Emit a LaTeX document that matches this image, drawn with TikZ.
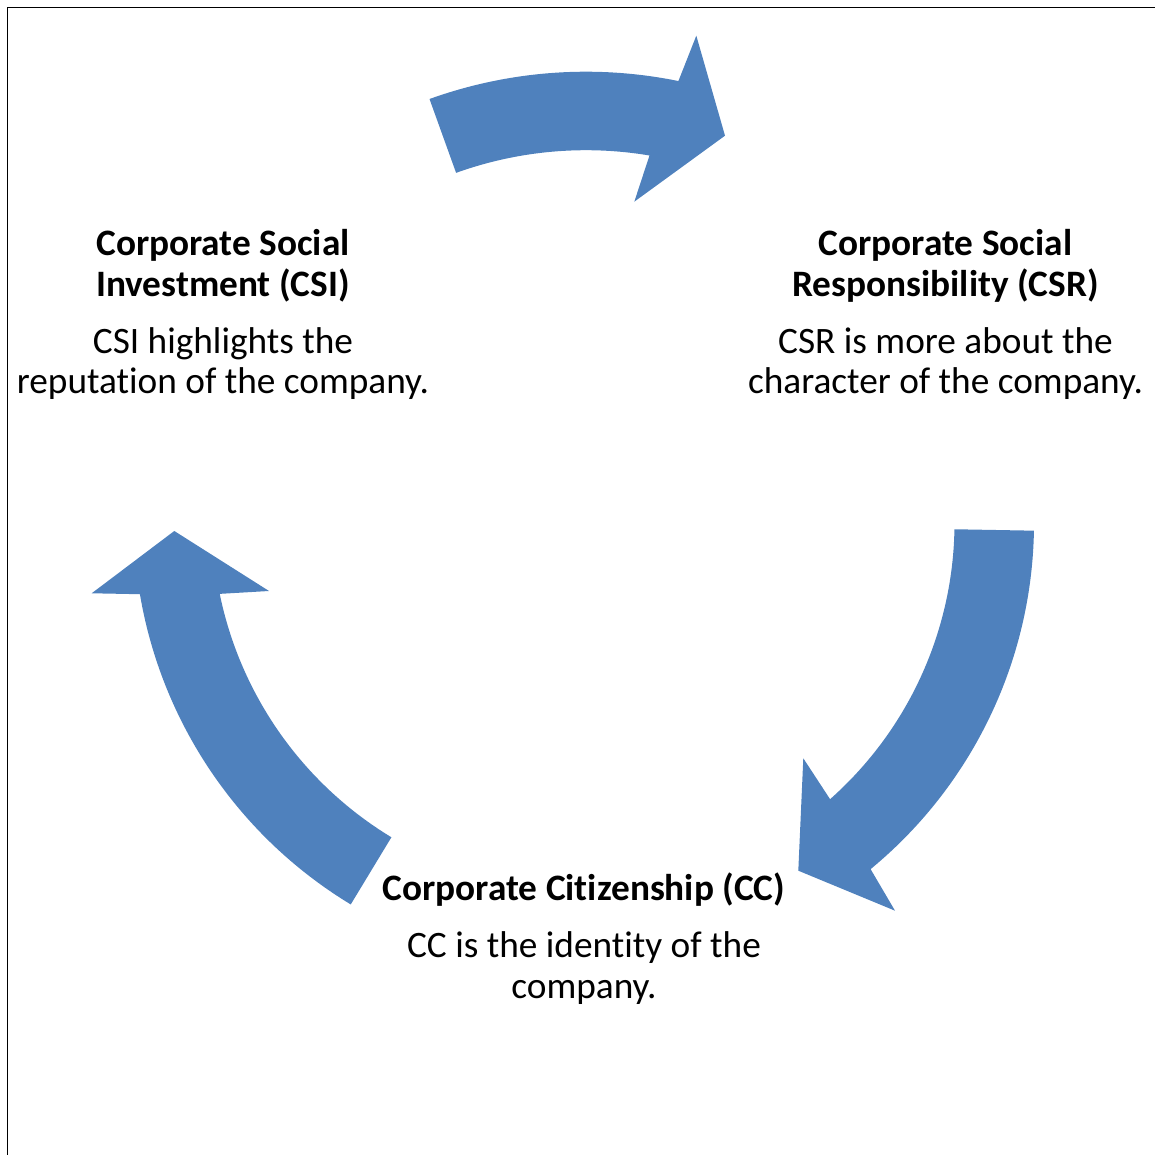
\documentclass[tikz,border=0pt]{standalone}
\usepackage{fontspec}
\setmainfont{Carlito}[Ligatures=NoCommon]
\begin{document}
\begin{tikzpicture}[x=1pt,y=1pt,
  cyclearrow/.style={fill=arrowblue, draw=none},
  titleline/.style={anchor=base, inner sep=0pt, font=\fontsize{37.3}{41}\selectfont\bfseries},
  bodyline/.style={anchor=base, inner sep=0pt, font=\fontsize{37.3}{41}\selectfont},
  frameline/.style={line width=1.5pt, draw=black}]
\definecolor{arrowblue}{RGB}{79,129,189}
\useasboundingbox (0,0) rectangle (1155,1155);

% frame (only the left and top edges fall inside the page)
\draw[frameline] (7.7,0) -- (7.7,1147.3) -- (1155,1147.3);

% centres of the three circular arrows
\coordinate (ctop) at (586,621.3);
\coordinate (cright) at (585,632.3);
\coordinate (cleft) at (584.1,635.9);

% top arrow: CSI -> CSR
\coordinate (topA) at (696.3,1119.3);
\coordinate (topTip) at (725,1019.3);
\coordinate (topB) at (634.3,953.3);
\fill[cyclearrow] ([shift={(109.8:462)}]ctop) arc[start angle=109.8, end angle=78.46, radius=462]
  -- (topA) -- (topTip) -- (topB)
  -- ([shift={(80.47:383.5)}]ctop) arc[start angle=80.47, end angle=109.8, radius=383.5] -- cycle;

% right arrow: CSR -> CC
\coordinate (rightA) at (895,244.3);
\coordinate (rightTip) at (798.3,284.3);
\coordinate (rightB) at (803.3,396.7);
\fill[cyclearrow] ([shift={(-1.02:449)}]cright) arc[start angle=-1.02, end angle=-50.5, radius=449]
  -- (rightA) -- (rightTip) -- (rightB)
  -- ([shift={(-48.45:369.5)}]cright) arc[start angle=-48.45, end angle=-1.02, radius=369.5] -- cycle;

% left arrow: CC -> CSI
\coordinate (leftA) at (91.7,561.7);
\coordinate (leftTip) at (174.3,624);
\coordinate (leftB) at (269,564);
\fill[cyclearrow] ([shift={(238.8:450.5)}]cleft) arc[start angle=238.8, end angle=189.6, radius=450.5]
  -- (leftA) -- (leftTip) -- (leftB)
  -- ([shift={(191.6:372)}]cleft) arc[start angle=191.6, end angle=238.8, radius=372] -- cycle;

% Corporate Social Investment
\node[titleline] (csiT1) at (223,899.5) {Corporate Social};
\node[titleline] (csiT2) at (223,858.3) {Investment (CSI)};
\node[bodyline] (csiB1) at (223,801.5) {CSI highlights the};
\node[bodyline] (csiB2) at (223,761) {reputation of the company.};

% Corporate Social Responsibility
\node[titleline] (csrT1) at (945.5,899.5) {Corporate Social};
\node[titleline] (csrT2) at (945.5,858.3) {Responsibility (CSR)};
\node[bodyline] (csrB1) at (945.5,801.5) {CSR is more about the};
\node[bodyline] (csrB2) at (945.5,761) {character of the company.};

% Corporate Citizenship
\node[titleline] (ccT) at (584,254) {Corporate Citizenship (CC)};
\node[bodyline] (ccB1) at (584,197.5) {CC is the identity of the};
\node[bodyline] (ccB2) at (584,156.5) {company.};
\end{tikzpicture}
\end{document}
